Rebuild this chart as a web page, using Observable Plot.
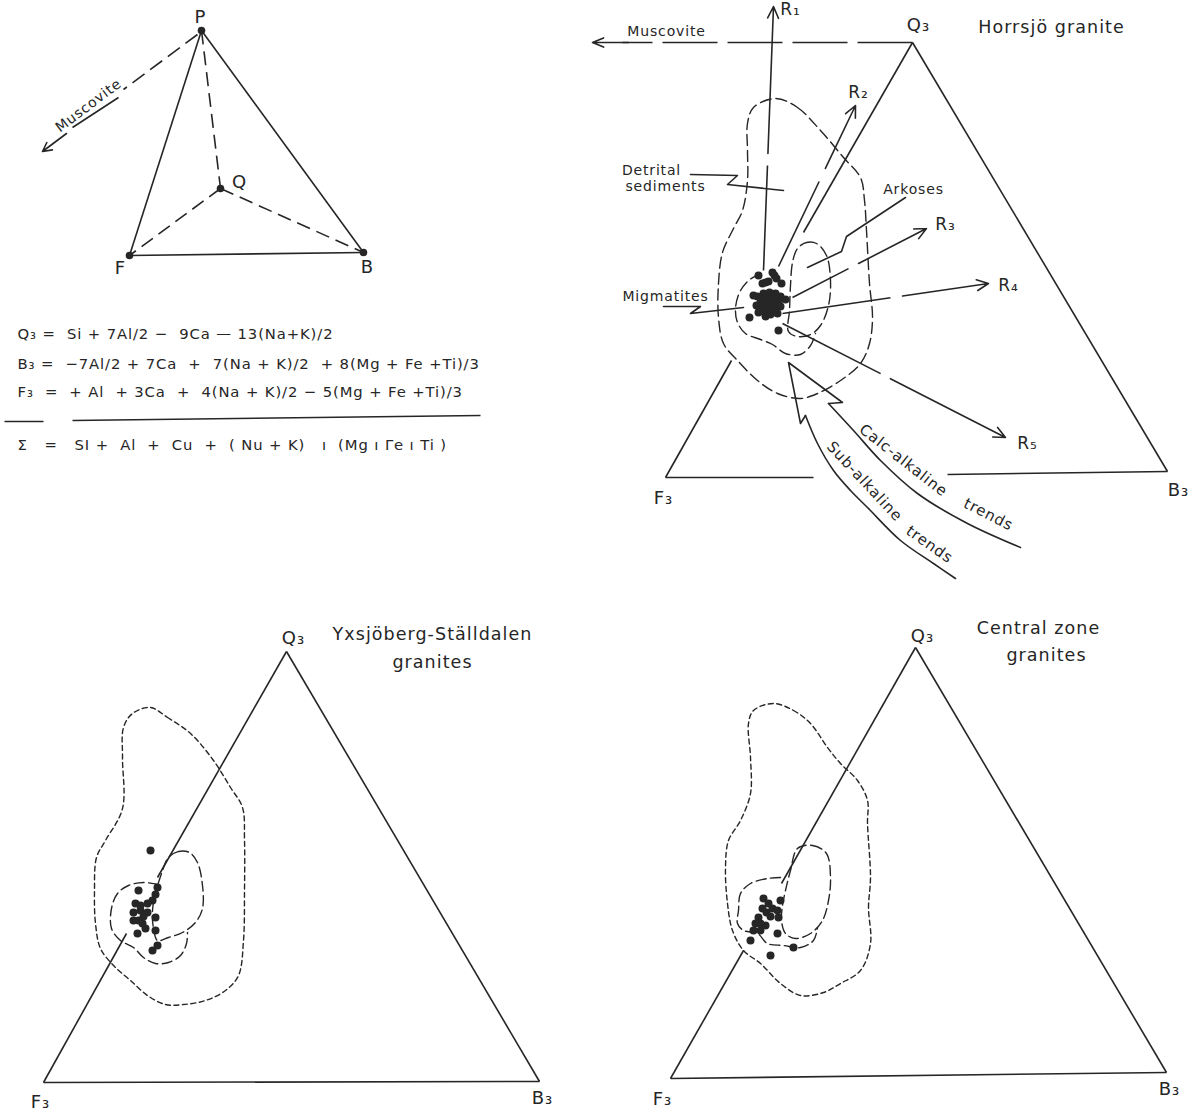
<!DOCTYPE html>
<html><head><meta charset="utf-8">
<script src="https://cdn.jsdelivr.net/npm/d3@7"></script>
<script src="https://cdn.jsdelivr.net/npm/@observablehq/plot@0.6"></script>
<style>body{margin:0;background:#fff} svg{display:block}</style>
</head><body><div id="chart"></div>
<script>
const INK = "#262626";
const FONT = "'DejaVu Sans', sans-serif";

// ---------- Panel A: tetrahedron P-Q-F-B ----------
const tetraVertices = [
  {name:"P", x:201, y:30}, {name:"Q", x:220, y:188},
  {name:"F", x:129, y:255}, {name:"B", x:363, y:252}
];
const tetraSolidEdges = [["P","F"],["P","B"],["F","B"]];
const tetraDashedEdges = [["P","Q"],["Q","F"],["Q","B"]];
const tetraLabels = [
  {text:"P", x:200, y:17}, {text:"Q", x:239, y:182},
  {text:"F", x:120, y:268}, {text:"B", x:367, y:267}
];
const muscoviteA = {dashFrom:[197,34], dashTo:[123,89], arrowFrom:[66,133], arrowTo:[42,151],
  underlineFrom:[72,127], underlineTo:[118,97], label:{x:88, y:105, angle:-37}};

// ---------- Formulas ----------
const formulaLines = [
  {text:"Q₃ =  Si + 7Al/2 −  9Ca — 13(Na+K)/2", x:17, y:334},
  {text:"B₃ =  −7Al/2 + 7Ca  +  7(Na + K)/2  + 8(Mg + Fe +Ti)/3", x:17, y:364},
  {text:"F₃  =  + Al  + 3Ca  +  4(Na + K)/2 − 5(Mg + Fe +Ti)/3", x:17, y:392},
  {text:"Σ   =   SI +  Al  +  Cu  +  ( Nu + K)   ı  (Mg ı Γe ı Ti )", x:17, y:445}
];
const formulaRules = [[4,421,43,421],[72,420,480,415]];

// ---------- Panel B: Horrsjö granite ----------
const trTriangleSegments = [
  [912,42,1167,471],[1167,471,947,474],[813,477,665,477],[665,477,731,360],[803,232,912,42]
];
const trMuscovite = {from:[912,42], to:[622,42], arrowFrom:[628,42], arrowTo:[592,42]};
const trRays = [
  {label:"R₁", x0:763, y0:270, x1:773, y1:6,   gap:[0.398,0.443], lx:790,  ly:9},
  {label:"R₂", x0:778, y0:266, x1:855, y1:105, gap:[0.528,0.609], lx:858,  ly:92},
  {label:"R₃", x0:792, y0:297, x1:926, y1:228, gap:[0.418,0.493], lx:945,  ly:224},
  {label:"R₄", x0:782, y0:313, x1:988, y1:283, gap:[0.524,0.583], lx:1008, ly:285},
  {label:"R₅", x0:782, y0:323, x1:1005,y1:437, gap:[0.440,0.484], lx:1027, ly:443}
];
const trDetrital = [[775,98],[797,107],[820,130],[843,157],[860,177],[864,200],[866,230],[869,283],
  [872,317],[869,343],[860,363],[840,380],[817,393],[800,398],[777,393],[757,380],[737,360],[723,343],
  [718,317],[718,283],[722,252],[733,228],[742,210],[747,180],[747,150],[747,123],[753,107]];
const trMigmatite = [[760,273],[748,280],[739,292],[735,308],[737,322],[745,333],[760,339],[772,344],
  [785,353],[800,354],[810,345],[815,333]];
const trArkose = [[797,248],[806,242],[816,243],[826,255],[830,280],[828,305],[820,325],[810,334],
  [797,336],[788,331],[789,310],[790,285],[792,262]];
const trSamples = [[757,296],[763,293],[769,292],[775,293],[780,296],[760,302],[766,300],[772,300],
  [778,302],[756,305],[762,307],[768,306],[774,307],[780,306],[765,311],[772,311],[759,310],
  [766,296],[772,296],[763,304],[770,304],[776,304],[768,309],[775,310],[761,299],[777,299],
  [753,295],[785,299],[749,317],[765,316],[777,313],[778,330],[770,314],[758,312],
  [758,275],[762,283],[768,281],[772,272],[776,278],[781,283],[765,282],[774,275]];
const trLeaders = [
  [[690,174],[737,175],[727,184],[783,190]],
  [[905,197],[846,236],[841,251],[807,267]],
  [[663,306],[700,306],[690,313],[743,307]]
];
const trTrendHead = [[805,415],[800,423],[788,362],[842,402],[828,403]];
const trSubCurve = [[805,415],[817,443],[833,470],[850,490],[867,507],[900,540],[933,563],[955,578]];
const trCalcCurve = [[828,403],[853,430],[880,460],[917,493],[967,523],[1020,547]];
const trLabels = [
  {text:"Q₃", x:918, y:25, size:18, angle:0},
  {text:"B₃", x:1178, y:490, size:18, angle:0},
  {text:"F₃", x:663, y:498, size:18, angle:0},
  {text:"Horrsjö granite", x:1051, y:27, size:17.5, angle:0},
  {text:"Muscovite", x:666, y:31, size:14, angle:0},
  {text:"Detrital", x:651, y:170, size:14, angle:0},
  {text:"sediments", x:665, y:186, size:14, angle:0},
  {text:"Arkoses", x:913, y:189, size:14, angle:0},
  {text:"Migmatites", x:665, y:296, size:14, angle:0},
  {text:"Calc-alkaline", x:903, y:460, size:15, angle:38},
  {text:"trends", x:988, y:514, size:15, angle:27},
  {text:"Sub-alkaline", x:864, y:481, size:15, angle:47},
  {text:"trends", x:929, y:544, size:15, angle:35}
];

// ---------- Panel C: Yxsjöberg-Ställdalen granites ----------
const blTriangleSegments = [[286,651,539,1081],[539,1081,43,1082],[43,1082,126,933],[157,877,286,651]];
const blOuter = [[150,707],[167,717],[190,733],[213,760],[230,787],[242,807],[244,840],[244,890],
  [243,940],[238,975],[225,990],[205,1000],[183,1004],[165,1004],[147,995],[130,980],[114,966],
  [100,948],[95,923],[94,890],[96,857],[105,840],[122,808],[122,757],[123,727],[132,713]];
const blMigmatite = [[158,884],[143,882],[128,885],[117,893],[111,908],[111,928],[120,940],[133,947],
  [143,957],[155,963],[168,962],[180,955],[186,943],[187,932]];
const blArkose = [[168,857],[178,851],[189,852],[197,862],[202,885],[202,908],[195,922],[182,932],
  [168,937],[157,940],[153,928],[152,910],[155,893],[161,873]];
const blSamples = [[150,850],[138,890],[157,887],[155,894],[152,900],[147,903],[135,903],[133,912],
  [140,910],[147,912],[138,920],[133,920],[142,923],[145,928],[155,917],[155,930],[137,933],
  [157,945],[152,950],[140,905],[143,916]];
const blLabels = [
  {text:"Q₃", x:293, y:638, size:18, angle:0},
  {text:"F₃", x:40, y:1102, size:18, angle:0},
  {text:"B₃", x:542, y:1098, size:18, angle:0},
  {text:"Yxsjöberg-Ställdalen", x:432, y:634, size:17.5, angle:0},
  {text:"granites", x:432, y:662, size:17.5, angle:0}
];

// ---------- Panel D: Central zone granites ----------
const brTriangleSegments = [[915,647,1166,1072],[1166,1072,670,1078],[670,1078,743,950],[781,883,915,647]];
const brOuter = [[773,703],[793,710],[810,723],[827,747],[840,763],[857,780],[867,800],[867,823],
  [870,877],[868,907],[870,943],[860,970],[840,983],[823,992],[800,995],[780,983],[760,963],
  [743,950],[732,930],[727,903],[725,867],[728,840],[740,820],[750,793],[750,757],[748,723],[753,710]];
const brMigmatite = [[780,877],[767,878],[750,883],[740,893],[738,910],[737,923],[743,930],[757,933],
  [767,943],[783,945],[800,947],[813,940],[817,927]];
const brArkose = [[797,848],[812,845],[826,853],[830,877],[828,900],[822,920],[810,933],[795,938],
  [785,933],[781,920],[782,905],[785,890],[790,870]];
const brSamples = [[763,898],[768,903],[772,908],[777,910],[778,917],[762,908],[758,917],[755,923],
  [753,930],[760,923],[765,925],[750,940],[780,900],[777,933],[793,947],[770,955],[766,912],
  [760,930],[770,916]];
const brLabels = [
  {text:"Q₃", x:922, y:636, size:18, angle:0},
  {text:"F₃", x:662, y:1099, size:18, angle:0},
  {text:"B₃", x:1169, y:1089, size:18, angle:0},
  {text:"Central zone", x:1038, y:628, size:17.5, angle:0},
  {text:"granites", x:1046, y:655, size:17.5, angle:0}
];

// ---------- helpers (build mark data from the arrays) ----------
const V = Object.fromEntries(tetraVertices.map(d => [d.name, d]));
const edgeLinks = edges => edges.map(([a,b]) => ({x1:V[a].x, y1:V[a].y, x2:V[b].x, y2:V[b].y}));
const segLinks = segs => segs.map(([x1,y1,x2,y2]) => ({x1,y1,x2,y2}));
const lerp = (r,t) => [r.x0 + (r.x1-r.x0)*t, r.y0 + (r.y1-r.y0)*t];
const rayFirst = trRays.map(r => { const g = lerp(r, r.gap[0]); return {x1:r.x0, y1:r.y0, x2:g[0], y2:g[1]}; });
const raySecond = trRays.map(r => { const g = lerp(r, r.gap[1]); return {x1:g[0], y1:g[1], x2:r.x1, y2:r.y1}; });
const pts = a => a.map(([x,y]) => ({x,y}));
const X = d => d[0], Y = d => d[1];

const solid = {stroke: INK, strokeWidth: 1.6};
const contourShort = {stroke: INK, strokeWidth: 1.4, strokeDasharray: "5,3.5", fill: "none"};
const contourLong = {stroke: INK, strokeWidth: 1.4, strokeDasharray: "10,4.5", fill: "none"};
const contourTR = {stroke: INK, strokeWidth: 1.4, strokeDasharray: "11,5", fill: "none"};
const textOpts = {text:"text", x:"x", y:"y", fontSize:"size", rotate:"angle", fill: INK, fontFamily: FONT};
const allLabels = [
  ...tetraLabels.map(d => ({...d, size:18, angle:0})),
  ...trLabels, ...blLabels, ...brLabels,
  ...trRays.map(r => ({text:r.label, x:r.lx, y:r.ly, size:17, angle:0}))
];

const chart = Plot.plot({
  width: 1199, height: 1115, margin: 0,
  x: {domain:[0,1199], range:[0,1199], axis:null},
  y: {domain:[0,1115], range:[0,1115], axis:null},
  style: {background:"white", fontFamily: FONT},
  marks: [
    // tetrahedron
    Plot.link(edgeLinks(tetraSolidEdges), {x1:"x1", y1:"y1", x2:"x2", y2:"y2", ...solid}),
    Plot.link(edgeLinks(tetraDashedEdges), {x1:"x1", y1:"y1", x2:"x2", y2:"y2", ...solid, strokeDasharray:"14,7"}),
    Plot.dot(tetraVertices, {x:"x", y:"y", r:3.8, fill: INK}),
    Plot.link([muscoviteA], {x1:d=>d.dashFrom[0], y1:d=>d.dashFrom[1], x2:d=>d.dashTo[0], y2:d=>d.dashTo[1], ...solid, strokeDasharray:"15,7"}),
    Plot.link([muscoviteA], {x1:d=>d.underlineFrom[0], y1:d=>d.underlineFrom[1], x2:d=>d.underlineTo[0], y2:d=>d.underlineTo[1], ...solid}),
    Plot.arrow([muscoviteA], {x1:d=>d.arrowFrom[0], y1:d=>d.arrowFrom[1], x2:d=>d.arrowTo[0], y2:d=>d.arrowTo[1], ...solid, headLength:11, headAngle:55}),
    Plot.text([muscoviteA], {x:d=>d.label.x, y:d=>d.label.y, rotate:d=>d.label.angle, text:()=>"Muscovite", fontSize:14, fill:INK, fontFamily:FONT}),

    // formulas
    Plot.text(formulaLines, {text:"text", x:"x", y:"y", textAnchor:"start", fontSize:14.8, fill:INK, fontFamily:FONT}),
    Plot.link(segLinks(formulaRules), {x1:"x1", y1:"y1", x2:"x2", y2:"y2", ...solid}),

    // Horrsjö panel
    Plot.link(segLinks(trTriangleSegments), {x1:"x1", y1:"y1", x2:"x2", y2:"y2", ...solid}),
    Plot.link([trMuscovite], {x1:d=>d.from[0], y1:d=>d.from[1], x2:d=>d.to[0], y2:d=>d.to[1], ...solid, strokeDasharray:"55,10"}),
    Plot.arrow([trMuscovite], {x1:d=>d.arrowFrom[0], y1:d=>d.arrowFrom[1], x2:d=>d.arrowTo[0], y2:d=>d.arrowTo[1], ...solid, headLength:12, headAngle:45}),
    Plot.line(trDetrital, {x:X, y:Y, curve:"catmull-rom-closed", ...contourTR}),
    Plot.line(trMigmatite, {x:X, y:Y, curve:"catmull-rom", ...contourTR}),
    Plot.line(trArkose, {x:X, y:Y, curve:"catmull-rom-closed", ...contourTR}),
    Plot.link(rayFirst, {x1:"x1", y1:"y1", x2:"x2", y2:"y2", ...solid}),
    Plot.arrow(raySecond, {x1:"x1", y1:"y1", x2:"x2", y2:"y2", ...solid, headLength:12, headAngle:50}),
    ...trLeaders.map(l => Plot.line(l, {x:X, y:Y, ...solid})),
    Plot.line(trTrendHead, {x:X, y:Y, ...solid}),
    Plot.line(trSubCurve, {x:X, y:Y, curve:"catmull-rom", ...solid}),
    Plot.line(trCalcCurve, {x:X, y:Y, curve:"catmull-rom", ...solid}),
    Plot.dot(pts(trSamples), {x:"x", y:"y", r:4, fill:INK}),

    // Yxsjöberg panel
    Plot.link(segLinks(blTriangleSegments), {x1:"x1", y1:"y1", x2:"x2", y2:"y2", ...solid}),
    Plot.line(blOuter, {x:X, y:Y, curve:"catmull-rom-closed", ...contourShort}),
    Plot.line(blMigmatite, {x:X, y:Y, curve:"catmull-rom", ...contourLong}),
    Plot.line(blArkose, {x:X, y:Y, curve:"catmull-rom-closed", ...contourLong}),
    Plot.dot(pts(blSamples), {x:"x", y:"y", r:4, fill:INK}),

    // Central zone panel
    Plot.link(segLinks(brTriangleSegments), {x1:"x1", y1:"y1", x2:"x2", y2:"y2", ...solid}),
    Plot.line(brOuter, {x:X, y:Y, curve:"catmull-rom-closed", ...contourShort}),
    Plot.line(brMigmatite, {x:X, y:Y, curve:"catmull-rom", ...contourLong}),
    Plot.line(brArkose, {x:X, y:Y, curve:"catmull-rom-closed", ...contourLong}),
    Plot.dot(pts(brSamples), {x:"x", y:"y", r:4, fill:INK}),

    // all labels
    Plot.text(allLabels, textOpts)
  ]
});
d3.select(chart).selectAll("text").style("letter-spacing", "0.06em");
document.getElementById("chart").appendChild(chart);
</script>
</body></html>
